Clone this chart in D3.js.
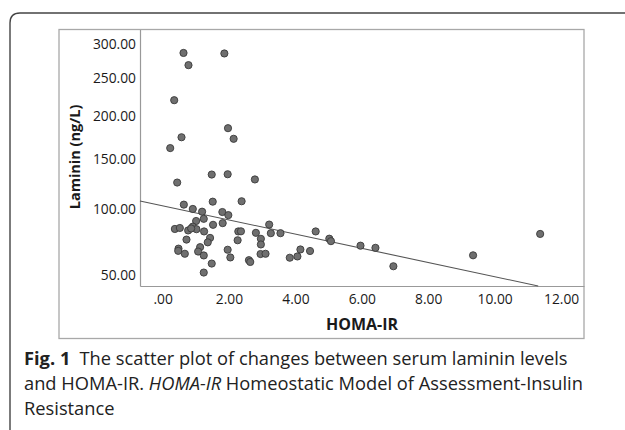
<!DOCTYPE html>
<html>
<head>
  <meta charset="utf-8">
  <script src="https://cdn.jsdelivr.net/npm/d3@7"></script>
  <style>
    body {
      margin: 0;
      background: #fff;
      overflow: hidden;
    }
    .tick text {
      font-family: "Open Sans", sans-serif;
      font-size: 13.8px;
      fill: #1a1a1a;
    }
    .axis-title {
      font-family: "Open Sans", sans-serif;
      font-weight: bold;
      fill: #1a1a1a;
    }
    .caption {
      font-family: "Open Sans", sans-serif;
      font-size: 18.3px;
      fill: #222;
    }
  </style>
</head>
<body>
  <svg width="625" height="430"></svg>
  <script>
    // HOMA-IR (x) and serum laminin ng/L (y)
    const homaIR = [
      0.63, 1.86, 0.78, 0.35, 1.97, 0.57, 2.14, 0.23, 1.48, 1.96,
      2.78, 0.44, 1.51, 2.38, 0.64, 0.91, 1.19, 1.80, 1.98, 1.24,
      1.01, 1.52, 1.81, 3.21, 0.37, 0.52, 0.91, 1.02, 0.77, 1.25,
      2.28, 2.36, 2.81, 3.26, 3.55, 4.61, 5.02, 5.07, 5.96, 6.41,
      0.72, 1.43, 2.26, 2.96, 2.96, 1.36, 1.13, 1.96, 0.48, 0.47,
      0.67, 1.07, 1.24, 2.04, 2.95, 3.10, 3.83, 4.06, 4.15, 4.44,
      2.60, 2.64, 1.48, 9.35, 6.95, 11.37, 1.24, 0.86
    ];
    const laminin = [
      287.2, 286.4, 269.1, 220.4, 185.0, 174.2, 172.4, 161.7, 133.2, 133.5,
      128.2, 125.1, 106.8, 107.2, 104.1, 100.2, 97.8, 97.5, 94.8, 91.6,
      89.8, 86.6, 88.0, 86.8, 83.2, 84.0, 85.1, 83.0, 82.0, 81.2,
      81.2, 81.3, 80.1, 79.8, 79.8, 81.2, 75.5, 73.6, 70.2, 68.6,
      74.8, 76.1, 74.3, 75.4, 71.1, 72.7, 69.1, 67.2, 68.0, 66.4,
      64.3, 65.9, 63.1, 61.7, 64.1, 64.3, 61.5, 62.4, 67.4, 66.3,
      59.8, 58.6, 57.5, 63.2, 55.7, 79.2, 51.6, 83.6
    ];
    const xTicks = [0, 2, 4, 6, 8, 10, 12];
    const yTicks = [50, 100, 150, 200, 250, 300];
    // fit line end points (x, y)
    const fitX = [-0.68, 11.31];
    const fitY = [107.5, 43.37];

    const svg = d3.select('svg');

    // rounded page frame
    svg.append('path')
      .attr('d', 'M10,430 L10,23 Q10,13 20,13 L625,13')
      .attr('fill', 'none')
      .attr('stroke', '#444')
      .attr('stroke-width', 1.4);

    // chart frame
    svg.append('rect')
      .attr('x', 59).attr('y', 29.5)
      .attr('width', 525).attr('height', 309)
      .attr('fill', 'none')
      .attr('stroke', '#a8a8a8')
      .attr('stroke-width', 1.3);

    const x = d3.scaleLinear().domain([-0.68, 12.69]).range([140, 584]);
    const y = d3.scaleSqrt().domain([43.37, 323.6]).range([286, 29.5]);

    const xAxis = d3.axisBottom(x)
      .tickValues(xTicks)
      .tickSize(0)
      .tickPadding(8)
      .tickFormat(d => d === 0 ? '.00' : d.toFixed(2));

    const yAxis = d3.axisLeft(y)
      .tickValues(yTicks)
      .tickSize(0)
      .tickPadding(4)
      .tickFormat(d => d.toFixed(2));

    const xg = svg.append('g')
      .attr('transform', 'translate(0,286)')
      .call(xAxis);
    const yg = svg.append('g')
      .attr('transform', 'translate(140,0)')
      .call(yAxis);
    xg.select('.domain').attr('stroke', '#999').attr('stroke-width', 1.2);
    yg.select('.domain').attr('stroke', '#999').attr('stroke-width', 1.2);
    xg.attr('font-family', null).attr('font-size', null);
    yg.attr('font-family', null).attr('font-size', null);

    // fit line
    svg.append('line')
      .attr('x1', x(fitX[0])).attr('y1', y(fitY[0]))
      .attr('x2', x(fitX[1])).attr('y2', y(fitY[1]))
      .attr('stroke', '#555')
      .attr('stroke-width', 1.1);

    // points
    svg.append('g')
      .selectAll('circle')
      .data(homaIR)
      .join('circle')
        .attr('cx', d => x(d))
        .attr('cy', (d, i) => y(laminin[i]))
        .attr('r', 3.6)
        .attr('fill', '#6f6f6f')
        .attr('stroke', '#3a3a3a')
        .attr('stroke-width', 0.9);

    svg.append('text')
      .attr('class', 'axis-title')
      .attr('transform', 'translate(80,157) rotate(-90)')
      .attr('text-anchor', 'middle')
      .attr('font-size', 14.5)
      .text('Laminin (ng/L)');

    svg.append('text')
      .attr('class', 'axis-title')
      .attr('x', 362).attr('y', 330)
      .attr('text-anchor', 'middle')
      .attr('font-size', 16)
      .text('HOMA-IR');

    // caption
    const cap = svg.append('text').attr('class', 'caption');
    const l1 = cap.append('tspan').attr('x', 24).attr('y', 365);
    l1.append('tspan').attr('font-weight', 'bold').text('Fig. 1');
    l1.append('tspan').text('\u2002The scatter plot of changes between serum laminin levels');
    const l2 = cap.append('tspan').attr('x', 24).attr('y', 390);
    l2.append('tspan').text('and HOMA-IR. ');
    l2.append('tspan').attr('font-style', 'italic').text('HOMA-IR');
    l2.append('tspan').text(' Homeostatic Model of Assessment-Insulin');
    cap.append('tspan').attr('x', 24).attr('y', 415).text('Resistance');
  </script>
</body>
</html>
